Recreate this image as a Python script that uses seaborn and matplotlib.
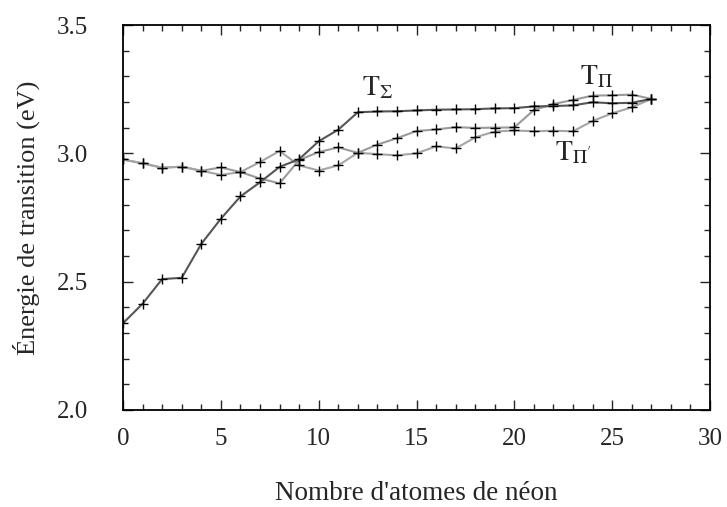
import numpy as np
import pandas as pd
import seaborn as sns
import matplotlib.pyplot as plt
from matplotlib.ticker import MultipleLocator

# nombre d'atomes de neon
n_atomes = list(range(28))

# energies de transition (eV)
t_sigma = [2.338, 2.414, 2.510, 2.515, 2.647, 2.745, 2.832, 2.887, 2.947, 2.977,
           3.047, 3.092, 3.160, 3.163, 3.164, 3.167, 3.170, 3.171, 3.172, 3.175,
           3.176, 3.183, 3.184, 3.187, 3.199, 3.195, 3.197, 3.212]
t_pi = [2.976, 2.961, 2.944, 2.948, 2.932, 2.945, 2.927, 2.902, 2.883, 2.974,
        3.005, 3.023, 3.002, 3.034, 3.059, 3.087, 3.093, 3.102, 3.099, 3.100,
        3.101, 3.169, 3.192, 3.208, 3.225, 3.226, 3.229, 3.212]
t_pi_prime = [2.976, 2.961, 2.944, 2.948, 2.932, 2.916, 2.927, 2.966, 3.009, 2.953,
              2.933, 2.953, 3.002, 2.997, 2.992, 3.000, 3.027, 3.019, 3.062, 3.085,
              3.089, 3.086, 3.088, 3.086, 3.126, 3.156, 3.179, 3.212]

series = ["T_Pi", "T_Pi'", "T_Sigma"]
couleurs = {"T_Pi": "#9a9a9a", "T_Pi'": "#a5a5a5", "T_Sigma": "#555555"}

df = pd.concat([
    pd.DataFrame({"n": n_atomes, "E": t_pi, "serie": "T_Pi"}),
    pd.DataFrame({"n": n_atomes, "E": t_pi_prime, "serie": "T_Pi'"}),
    pd.DataFrame({"n": n_atomes, "E": t_sigma, "serie": "T_Sigma"}),
])

sns.set_style("ticks")
plt.rcParams['font.family'] = ['Liberation Serif', 'DejaVu Serif']
plt.rcParams['mathtext.fontset'] = 'stix'

fig = plt.figure(figsize=(7.27, 5.07), dpi=100)
ax = fig.add_axes([123 / 727, 97 / 507, 587 / 727, 385 / 507])

sns.lineplot(data=df, x="n", y="E", hue="serie", hue_order=series, palette=couleurs,
             marker="+", markersize=7, markeredgecolor="black", markeredgewidth=1.0,
             linewidth=1.5, legend=False, ax=ax)

ax.set_xlim(0, 30)
ax.set_ylim(2.0, 3.5)
ax.xaxis.set_major_locator(MultipleLocator(5))
ax.xaxis.set_minor_locator(MultipleLocator(1))
ax.yaxis.set_major_locator(MultipleLocator(0.5))
ax.yaxis.set_minor_locator(MultipleLocator(0.1))
ax.yaxis.set_major_formatter(plt.FormatStrFormatter('%.1f'))
ax.tick_params(which='both', direction='in', top=True, right=True, labelsize=18, width=1.0)
ax.tick_params(which='major', length=7)
ax.tick_params(which='minor', length=4.5)
ax.tick_params(axis='y', which='major', pad=25)
ax.tick_params(axis='x', which='major', pad=13)
for sp in ax.spines.values():
    sp.set_linewidth(1.3)
    sp.set_color('black')

ax.set_xlabel("Nombre d'atomes de néon", fontsize=19.5, labelpad=22)
ax.set_ylabel("Énergie de transition (eV)", fontsize=19, labelpad=12)

ax.text(12.2, 3.254, r"$\mathrm{T}_{\Sigma}$", fontsize=20, ha='left', va='center')
ax.text(23.35, 3.297, r"$\mathrm{T}_{\Pi}$", fontsize=20, ha='left', va='center')
ax.text(22.1, 3.0, r"$\mathrm{T}_{\Pi'}$", fontsize=20, ha='left', va='center')

fig.savefig("out.png", dpi=100)
